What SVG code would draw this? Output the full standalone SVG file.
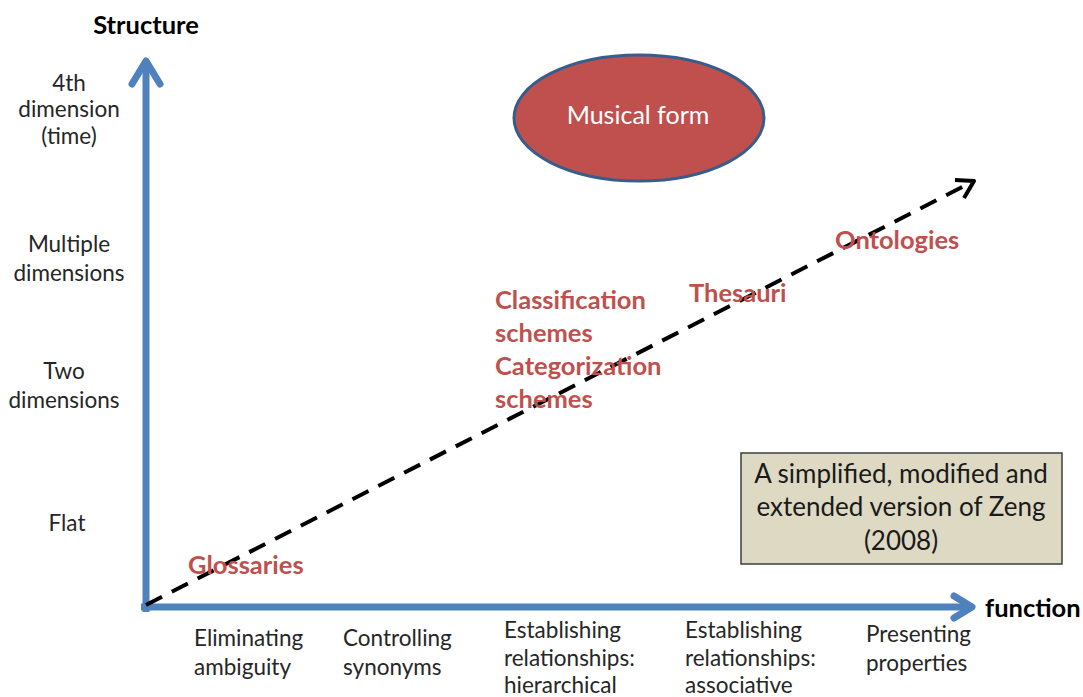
<svg xmlns="http://www.w3.org/2000/svg" width="1083" height="697" viewBox="0 0 1083 697">
<style>
text{font-family:Lato,"Liberation Sans",sans-serif;}
.lab{font-size:22.5px;fill:#262626;text-anchor:middle;dominant-baseline:central;}
.bl{font-size:22.5px;fill:#262626;dominant-baseline:central;}
.red{font-size:25.5px;font-weight:bold;fill:#C0504D;dominant-baseline:central;}
.ttl{font-size:25.5px;font-weight:bold;fill:#000;dominant-baseline:central;}
.axis{stroke:#4F81BD;stroke-width:7;fill:none;}
.dash{stroke:#000;stroke-width:4;fill:none;}
.note{font-size:26px;fill:#1a1a1a;text-anchor:middle;dominant-baseline:central;}
</style>
<rect width="1083" height="697" fill="#fff"/>
<g id="connectors">
<line class="axis" x1="146" y1="612" x2="146" y2="62"/>
<polyline class="axis" points="132,84 146,61 160,84" stroke-linecap="round" stroke-linejoin="round"/>
<line class="axis" x1="141" y1="607" x2="972" y2="607"/>
<polyline class="axis" points="954,596 972,607 954,618" stroke-linecap="round" stroke-linejoin="round"/>
<line class="dash" x1="146" y1="605" x2="972" y2="182" stroke-dasharray="18,11"/>
<polyline class="dash" points="955,180 974,181 964,198" stroke-linejoin="round"/>
</g>
<g id="ytitle"><text class="ttl" x="146" y="24" text-anchor="middle">Structure</text></g>
<g id="xtitle"><text class="ttl" x="985" y="607">function</text></g>
<g id="y4"><text class="lab" x="69" y="82">4th</text><text class="lab" x="69" y="108">dimension</text><text class="lab" x="69" y="135">(time)</text></g>
<g id="ymulti"><text class="lab" x="69" y="243">Multiple</text><text class="lab" x="69" y="272">dimensions</text></g>
<g id="ytwo"><text class="lab" x="64" y="370">Two</text><text class="lab" x="64" y="399">dimensions</text></g>
<g id="yflat"><text class="lab" x="67" y="522">Flat</text></g>
<g id="x1"><text class="bl" x="194" y="637">Eliminating</text><text class="bl" x="194" y="666">ambiguity</text></g>
<g id="x2"><text class="bl" x="343" y="637">Controlling</text><text class="bl" x="343" y="666">synonyms</text></g>
<g id="x3"><text class="bl" x="504" y="629">Establishing</text><text class="bl" x="504" y="657">relationships:</text><text class="bl" x="504" y="684">hierarchical</text></g>
<g id="x4"><text class="bl" x="685" y="629">Establishing</text><text class="bl" x="685" y="657">relationships:</text><text class="bl" x="685" y="684">associative</text></g>
<g id="x5"><text class="bl" x="866" y="633">Presenting</text><text class="bl" x="866" y="662">properties</text></g>
<g id="glossaries"><text class="red" x="188" y="564">Glossaries</text></g>
<g id="classification"><text class="red" x="495" y="299">Classification</text><text class="red" x="495" y="332">schemes</text><text class="red" x="495" y="365">Categorization</text><text class="red" x="495" y="398">schemes</text></g>
<g id="thesauri"><text class="red" x="689" y="292">Thesauri</text></g>
<g id="ontologies"><text class="red" x="835" y="239">Ontologies</text></g>
<g id="musical">
<ellipse cx="639" cy="118" rx="125" ry="63" fill="#C0504D" stroke="#385D8A" stroke-width="3"/>
<text x="638" y="114" font-size="25" fill="#fff" text-anchor="middle" dominant-baseline="central">Musical form</text>
</g>
<g id="note">
<rect x="741" y="453" width="321" height="111" fill="#DDD9C3" stroke="#3F3F3F" stroke-width="1.5"/>
<text class="note" x="901" y="473">A simplified, modified and</text>
<text class="note" x="901" y="506">extended version of Zeng</text>
<text class="note" x="901" y="540">(2008)</text>
</g>
</svg>
